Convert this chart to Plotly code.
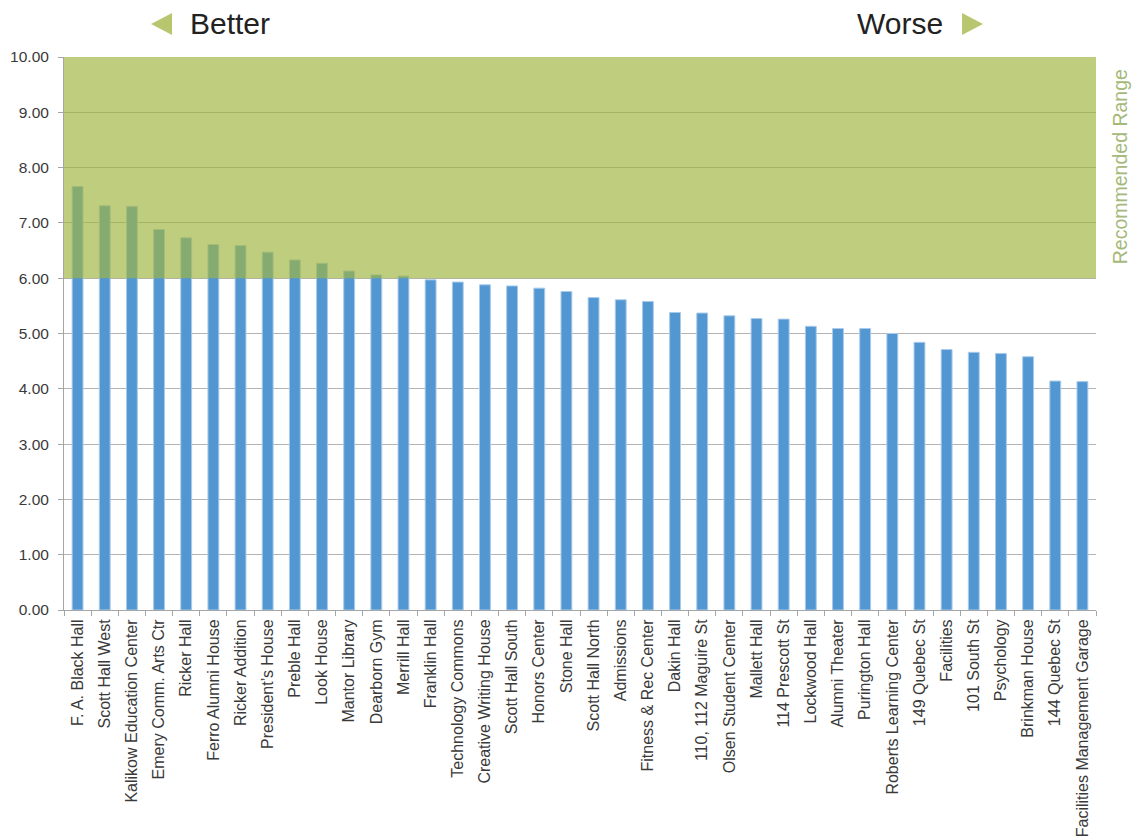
import plotly.graph_objects as go

# Building scores, sorted from best to worst
buildings = [
    "F. A. Black Hall", "Scott Hall West", "Kalikow Education Center", "Emery Comm. Arts Ctr",
    "Ricker Hall", "Ferro Alumni House", "Ricker Addition", "President’s House",
    "Preble Hall", "Look House", "Mantor Library", "Dearborn Gym", "Merrill Hall",
    "Franklin Hall", "Technology Commons", "Creative Writing House", "Scott Hall South",
    "Honors Center", "Stone Hall", "Scott Hall North", "Admissions", "Fitness & Rec Center",
    "Dakin Hall", "110, 112 Maguire St", "Olsen Student Center", "Mallett Hall",
    "114 Prescott St", "Lockwood Hall", "Alumni Theater", "Purington Hall",
    "Roberts Learning Center", "149 Quebec St", "Facilities", "101 South St",
    "Psychology", "Brinkman House", "144 Quebec St", "Facilities Management Garage",
]
scores = [
    7.66, 7.31, 7.30, 6.88, 6.73, 6.61, 6.59, 6.47, 6.33, 6.27, 6.13, 6.06, 6.04,
    5.97, 5.93, 5.88, 5.86, 5.82, 5.76, 5.65, 5.61, 5.58, 5.38, 5.37, 5.32, 5.27,
    5.26, 5.13, 5.09, 5.09, 5.00, 4.84, 4.71, 4.66, 4.64, 4.58, 4.14, 4.13,
]
y_ticks = [0, 1, 2, 3, 4, 5, 6, 7, 8, 9, 10]
range_low, range_high = 6.0, 10.0

FONT = "Liberation Sans, Arial, sans-serif"
GREEN = "#b8c76f"

fig = go.Figure()
fig.add_trace(go.Bar(
    x=buildings,
    y=scores,
    marker=dict(color="#5297d2", line=dict(color="#a9cbea", width=1)),
    hoverinfo="x+y",
))

# Recommended range band, drawn over the bars
fig.add_shape(
    type="rect", xref="paper", yref="y",
    x0=0, x1=1, y0=range_low, y1=range_high,
    fillcolor="rgba(160,181,64,0.67)", line=dict(width=0), layer="above",
)

# Direction arrows
fig.add_shape(
    type="path", xref="paper", yref="paper",
    path="M 0.0843 1.0597 L 0.1047 1.0796 L 0.1047 1.0398 Z",
    fillcolor=GREEN, line=dict(width=0),
)
fig.add_shape(
    type="path", xref="paper", yref="paper",
    path="M 0.8905 1.0597 L 0.8702 1.0796 L 0.8702 1.0398 Z",
    fillcolor=GREEN, line=dict(width=0),
)

fig.add_annotation(
    text="Better", xref="paper", yref="paper", x=0.1201, y=1.0597,
    xanchor="left", yanchor="middle", showarrow=False,
    font=dict(family=FONT, size=30, color="#222222"),
)
fig.add_annotation(
    text="Worse", xref="paper", yref="paper", x=0.8537, y=1.0597,
    xanchor="right", yanchor="middle", showarrow=False,
    font=dict(family=FONT, size=30, color="#222222"),
)
fig.add_annotation(
    text="Recommended Range", xref="paper", yref="paper", x=1.024, y=0.802,
    xanchor="center", yanchor="middle", showarrow=False, textangle=-90,
    font=dict(family=FONT, size=19.5, color="#a5b97a"),
)

fig.update_layout(
    width=1137, height=840,
    margin=dict(l=64, r=41, t=57, b=230, autoexpand=False),
    paper_bgcolor="white", plot_bgcolor="white",
    bargap=0.6,
    showlegend=False,
    font=dict(family=FONT, color="#3a3a3a"),
)
fig.update_xaxes(
    tickangle=-90,
    tickfont=dict(family=FONT, size=16, color="#3a3a3a"),
    showline=True, linecolor="#a6a6a6", linewidth=1,
    ticks="outside", ticklen=5, tickcolor="#a6a6a6", tickson="boundaries",
    ticklabelstandoff=2,
    showgrid=False,
)
fig.update_yaxes(
    range=[0, 10], tickvals=y_ticks,
    ticktext=[f"{v:.2f}" for v in y_ticks],
    tickfont=dict(family=FONT, size=15.5, color="#3a3a3a"),
    showline=True, linecolor="#a6a6a6", linewidth=1,
    ticks="outside", ticklen=5, tickcolor="#a6a6a6",
    ticklabelstandoff=6,
    showgrid=True, gridcolor="#b4b4b4", gridwidth=1,
    zeroline=False,
)

fig.write_html("out.html")
